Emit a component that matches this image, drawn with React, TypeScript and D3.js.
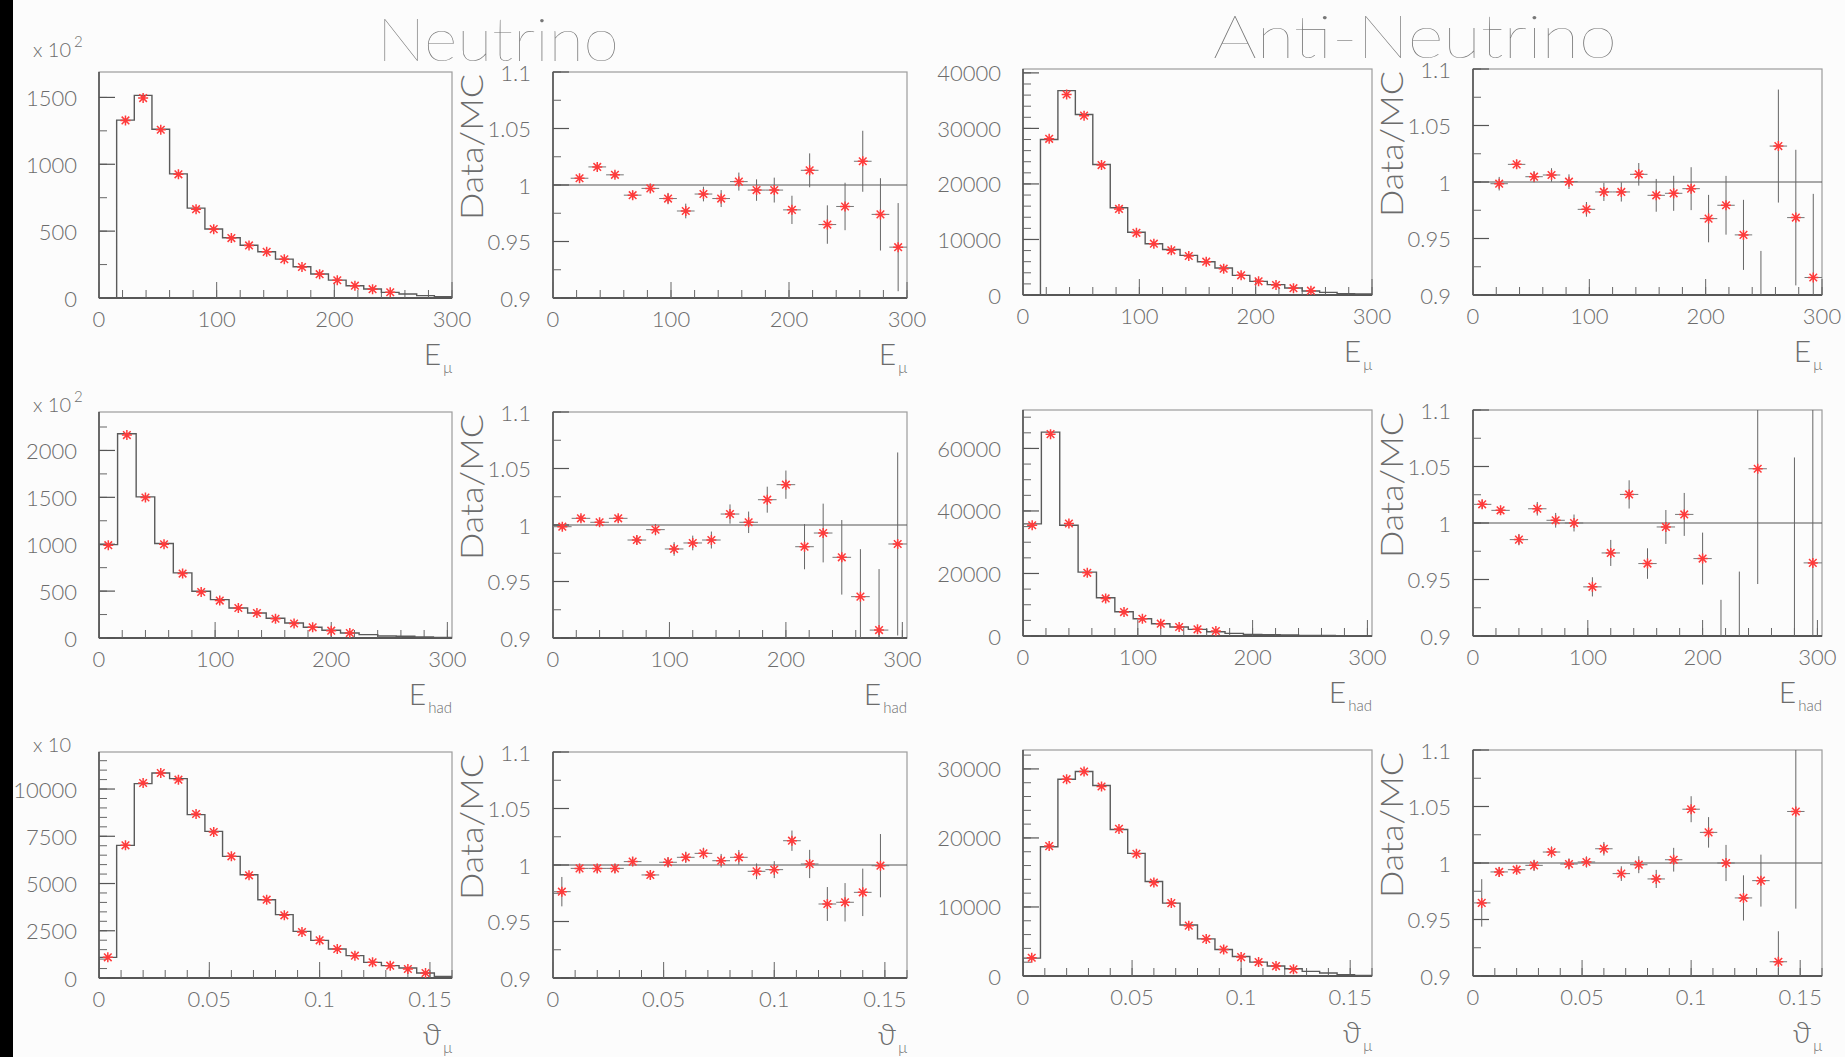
import React, { useEffect, useRef } from 'react';
import * as d3 from 'd3';

// ---- tick labels ----
const energyTicks = [0, 100, 200, 300];
const thetaTicks = [0, 0.05, 0.1, 0.15];
const ratioTicks = [0.9, 0.95, 1, 1.05, 1.1];

// ---- Neutrino, E_mu (20 bins of 15), counts x 10^2 ----
const nuEmuMC = [0, 1330, 1515, 1262, 928, 672, 516, 450, 395, 346, 291, 234, 179, 134, 92, 67, 42, 30, 18, 10];
const nuEmuData = [null, 1328, 1495, 1258, 925, 664, 515, 448, 393, 345, 290, 232, 178, 133, 92, 66, 43, null, null, null];
const nuEmuRatio = [null, 1.006, 1.016, 1.009, 0.991, 0.997, 0.988, 0.977, 0.992, 0.988, 1.003, 0.9955, 0.9955, 0.978, 1.013, 0.965, 0.981, 1.021, 0.974, 0.945];
const nuEmuErr = [null, 0.003, 0.003, 0.003, 0.004, 0.004, 0.005, 0.0065, 0.0065, 0.0075, 0.008, 0.0095, 0.011, 0.0125, 0.015, 0.017, 0.021, 0.027, 0.032, 0.039];

// ---- Anti-Neutrino, E_mu ----
const anuEmuMC = [0, 28000, 36800, 32500, 23500, 15700, 11300, 9240, 8200, 7140, 6000, 4860, 3540, 2460, 1860, 1260, 720, 480, 240, 180];
const anuEmuData = [null, 28130, 36100, 32300, 23400, 15500, 11200, 9240, 8040, 7020, 6000, 4740, 3540, 2460, 1800, 1230, 780, null, null, null];
const anuEmuRatio = [null, 0.9985, 1.0156, 1.0047, 1.0062, 1.0003, 0.9758, 0.9912, 0.9912, 1.0068, 0.9882, 0.99, 0.9941, 0.9676, 0.9794, 0.9532, 0.88, 1.0318, 0.9685, 0.9155];
const anuEmuErr = [null, 0.006, 0.004, 0.005, 0.006, 0.0065, 0.0065, 0.008, 0.0085, 0.01, 0.0145, 0.0155, 0.019, 0.021, 0.026, 0.031, 0.059, 0.05, 0.06, 0.074];

// ---- Neutrino, E_had (19 bins of 16), counts x 10^2 ----
const nuEhadMC = [996, 2178, 1505, 1007, 694, 498, 409, 320, 267, 210, 160, 114, 82, 53, 36, 21, 18, 11, 7];
const nuEhadData = [990, 2164, 1498, 1000, 687, 491, 399, 320, 267, 205, 155, 114, 78, 53, null, null, null, null, null];
const nuEhadRatio = [0.9985, 1.0059, 1.0024, 1.0059, 0.9867, 0.9959, 0.9788, 0.9841, 0.9867, 1.0097, 1.0024, 1.0224, 1.0357, 0.9808, 0.9929, 0.9714, 0.9366, 0.907, 0.9832];
const nuEhadErr = [0.003, 0.003, 0.003, 0.003, 0.004, 0.005, 0.006, 0.0065, 0.0075, 0.0085, 0.0095, 0.0115, 0.0125, 0.02, 0.026, 0.033, 0.042, 0.054, 0.081];

// ---- Anti-Neutrino, E_had ----
const anuEhadMC = [35860, 65220, 35430, 20430, 12240, 7770, 5530, 3940, 2870, 2130, 1380, 850, 530, 420, 320, 200, 150, 100, 80];
const anuEhadData = [35430, 64580, 36000, 20220, 12020, 7660, 5530, 3940, 2870, 2130, 1600, null, null, null, null, null, null, null, null];
const anuEhadRatio = [1.0165, 1.0112, 0.9853, 1.0126, 1.0024, 1.0, 0.9435, 0.9735, 1.0253, 0.9641, 0.9965, 1.0076, 0.9685, 0.85, 0.87, 1.048, null, 0.88, 0.9647];
const anuEhadErr = [0.004, 0.004, 0.005, 0.006, 0.0065, 0.0075, 0.0085, 0.0115, 0.0125, 0.0135, 0.015, 0.019, 0.023, 0.082, 0.087, 0.102, null, 0.178, 0.2];

// ---- Neutrino, theta_mu (20 bins of 0.008), counts x 10 ----
const nuThMC = [1094, 7020, 10284, 10850, 10550, 8644, 7762, 6439, 5468, 4145, 3352, 2470, 1993, 1535, 1182, 829, 653, 529, 265, 88];
const nuThData = [1094, 7020, 10319, 10850, 10496, 8679, 7726, 6439, 5433, 4145, 3316, 2434, 1993, 1535, 1182, 829, 653, 476, 265, null];
const nuThRatio = [0.9764, 0.997, 0.997, 0.997, 1.003, 0.9912, 1.0024, 1.0068, 1.0103, 1.0038, 1.0068, 0.9944, 0.9959, 1.0215, 1.0009, 0.9655, 0.967, 0.9758, 0.9994, null];
const nuThErr = [0.013, 0.004, 0.004, 0.004, 0.004, 0.004, 0.0045, 0.005, 0.005, 0.006, 0.0065, 0.007, 0.0075, 0.009, 0.0125, 0.015, 0.017, 0.021, 0.028, null];

// ---- Anti-Neutrino, theta_mu ----
const anuThMC = [2592, 18720, 28512, 29616, 27600, 21216, 17760, 13680, 10560, 7392, 5376, 3840, 2832, 2016, 1440, 1056, 672, 432, 192, 96];
const anuThData = [2640, 18816, 28512, 29616, 27456, 21312, 17712, 13536, 10560, 7296, 5376, 3840, 2736, 2016, 1440, 960, null, null, null, null];
const anuThRatio = [0.9647, 0.9921, 0.9941, 0.9979, 1.0097, 0.9991, 1.0009, 1.0126, 0.9906, 0.9985, 0.9859, 1.0029, 1.0476, 1.0271, 1.0, 0.9691, 0.9844, 0.9126, 1.0456, null];
const anuThErr = [0.021, 0.0045, 0.004, 0.005, 0.005, 0.005, 0.005, 0.006, 0.0065, 0.0075, 0.008, 0.0105, 0.0115, 0.0135, 0.016, 0.02, 0.023, 0.027, 0.086, null];

const W = 1845;
const H = 1057;
const FONT = "Lato, 'DejaVu Sans', sans-serif";
const TXT = '#6c6c6c';

const xAxes = {
  emu: { domain: [0, 300], bin: 15, n: 20, ticks: energyTicks, minor: 20, title: 'E', sub: 'μ' },
  ehad: { domain: [0, 304], bin: 16, n: 19, ticks: energyTicks, minor: 20, title: 'E', sub: 'had' },
  theta: { domain: [0, 0.16], bin: 0.008, n: 20, ticks: thetaTicks, minor: 0.01, title: 'ϑ', sub: 'μ' },
};

// frame layout
const colX = [99, 553, 1023, 1473];
const colW = [353, 354, 349, 349];
const rowTopL = [72, 412, 752];
const rowTopR = [69, 410, 750];
const frameH = 226;

const panels: any[] = [
  { col: 0, row: 0, kind: 'hist', axis: 'emu', yMax: 1690, yTicks: [0, 500, 1000, 1500], yMinor: 250, mc: nuEmuMC, data: nuEmuData, mult: { t: 'x 10', s: '2', dy: -15 } },
  { col: 1, row: 0, kind: 'ratio', axis: 'emu', ratio: nuEmuRatio, err: nuEmuErr },
  { col: 2, row: 0, kind: 'hist', axis: 'emu', yMax: 40700, yTicks: [0, 10000, 20000, 30000, 40000], yMinor: 2000, mc: anuEmuMC, data: anuEmuData },
  { col: 3, row: 0, kind: 'ratio', axis: 'emu', ratio: anuEmuRatio, err: anuEmuErr },
  { col: 0, row: 1, kind: 'hist', axis: 'ehad', yMax: 2410, yTicks: [0, 500, 1000, 1500, 2000], yMinor: 250, mc: nuEhadMC, data: nuEhadData, mult: { t: 'x 10', s: '2', dy: 0 } },
  { col: 1, row: 1, kind: 'ratio', axis: 'ehad', ratio: nuEhadRatio, err: nuEhadErr },
  { col: 2, row: 1, kind: 'hist', axis: 'ehad', yMax: 72300, yTicks: [0, 20000, 40000, 60000], yMinor: 5000, mc: anuEhadMC, data: anuEhadData },
  { col: 3, row: 1, kind: 'ratio', axis: 'ehad', ratio: anuEhadRatio, err: anuEhadErr },
  { col: 0, row: 2, kind: 'hist', axis: 'theta', yMax: 11960, yTicks: [0, 2500, 5000, 7500, 10000], yMinor: 500, mc: nuThMC, data: nuThData, mult: { t: 'x 10', s: '', dy: 0 } },
  { col: 1, row: 2, kind: 'ratio', axis: 'theta', ratio: nuThRatio, err: nuThErr },
  { col: 2, row: 2, kind: 'hist', axis: 'theta', yMax: 32740, yTicks: [0, 10000, 20000, 30000], yMinor: 2000, mc: anuThMC, data: anuThData },
  { col: 3, row: 2, kind: 'ratio', axis: 'theta', ratio: anuThRatio, err: anuThErr },
];

const starPath = 'M-5,0H5M0,-5V5M-3.8,-3.8L3.8,3.8M-3.8,3.8L3.8,-3.8';

const App = () => {
  const svgRef = useRef<SVGSVGElement>(null);

  useEffect(() => {
    const svg = d3.select(svgRef.current);
    svg.selectAll('*').remove();

    svg.append('rect').attr('width', W).attr('height', H).attr('fill', '#fcfcfc');
    svg.append('rect').attr('width', 13).attr('height', H).attr('fill', '#000');

    // titles
    svg.append('text')
      .attr('x', 377).attr('y', 61)
      .attr('textLength', 242).attr('lengthAdjust', 'spacingAndGlyphs')
      .style('font-family', FONT).style('font-weight', 200).style('font-size', '60px')
      .attr('fill', '#777')
      .text('Neutrino');
    svg.append('text')
      .attr('x', 1213).attr('y', 58)
      .attr('textLength', 404).attr('lengthAdjust', 'spacingAndGlyphs')
      .style('font-family', FONT).style('font-weight', 200).style('font-size', '59px')
      .attr('fill', '#777')
      .text('Anti-Neutrino');

    panels.forEach((p, idx) => {
      const ax = (xAxes as any)[p.axis];
      const left = colX[p.col];
      const right = left + colW[p.col];
      const top = (p.col < 2 ? rowTopL : rowTopR)[p.row];
      const bottom = top + frameH;

      const x = d3.scaleLinear().domain(ax.domain).range([left, right]);
      const y = d3.scaleLinear()
        .domain(p.kind === 'hist' ? [0, p.yMax] : [0.9, 1.1])
        .range([bottom, top]);

      const g = svg.append('g');
      const clipId = `clip-${idx}`;
      g.append('clipPath').attr('id', clipId)
        .append('rect').attr('x', left).attr('y', top).attr('width', right - left).attr('height', frameH);

      const edges = d3.range(ax.n + 1).map(i => i * ax.bin);
      const centers = d3.range(ax.n).map(i => (i + 0.5) * ax.bin);

      // frame
      g.append('rect')
        .attr('x', left).attr('y', top).attr('width', right - left).attr('height', frameH)
        .attr('fill', 'none').attr('stroke', '#9c9c9c').attr('stroke-width', 1.2);
      g.append('line').attr('x1', left).attr('x2', right).attr('y1', bottom).attr('y2', bottom)
        .attr('stroke', '#333').attr('stroke-width', 1.6);
      g.append('line').attr('x1', left).attr('x2', left).attr('y1', top).attr('y2', bottom)
        .attr('stroke', '#444').attr('stroke-width', 1.4);

      // x ticks
      const xMinor = d3.range(ax.domain[0], ax.domain[1] + ax.minor / 2, ax.minor);
      g.selectAll('.xminor').data(xMinor).enter().append('line')
        .attr('x1', d => x(d)).attr('x2', d => x(d))
        .attr('y1', bottom).attr('y2', bottom - 8)
        .attr('stroke', '#666').attr('stroke-width', 1);
      g.selectAll('.xmajor').data(ax.ticks).enter().append('line')
        .attr('x1', (d: number) => x(d)).attr('x2', (d: number) => x(d))
        .attr('y1', bottom).attr('y2', bottom - 16)
        .attr('stroke', '#666').attr('stroke-width', 1);
      g.selectAll('.xlab').data(ax.ticks).enter().append('text')
        .attr('x', (d: number) => x(d)).attr('y', bottom + 29)
        .attr('text-anchor', 'middle')
        .style('font-family', FONT).style('font-weight', 300).style('font-size', '22px')
        .attr('fill', TXT)
        .text((d: number) => String(d));

      // x title
      const xt = g.append('text')
        .attr('x', right).attr('y', bottom + 67)
        .attr('text-anchor', 'end')
        .style('font-family', FONT).style('font-weight', 300)
        .attr('fill', TXT);
      xt.append('tspan').style('font-size', '30px').text(ax.title);
      xt.append('tspan').style('font-size', '15px').attr('dy', 8).attr('dx', 2).text(ax.sub);

      // y ticks
      const yTicks = p.kind === 'hist' ? p.yTicks : ratioTicks;
      const yMinorStep = p.kind === 'hist' ? p.yMinor : 0.025;
      const y0 = p.kind === 'hist' ? 0 : 0.9;
      const y1 = p.kind === 'hist' ? p.yMax : 1.1 + 1e-9;
      const yMinor = d3.range(y0, y1, yMinorStep);
      g.selectAll('.yminor').data(yMinor).enter().append('line')
        .attr('x1', left).attr('x2', left + 8)
        .attr('y1', d => y(d)).attr('y2', d => y(d))
        .attr('stroke', '#666').attr('stroke-width', 1);
      g.selectAll('.ymajor').data(yTicks).enter().append('line')
        .attr('x1', left).attr('x2', left + 16)
        .attr('y1', (d: number) => y(d)).attr('y2', (d: number) => y(d))
        .attr('stroke', '#555').attr('stroke-width', 1.2);
      g.selectAll('.ylab').data(yTicks).enter().append('text')
        .attr('x', left - 22).attr('y', (d: number) => y(d))
        .attr('text-anchor', 'end').attr('dominant-baseline', 'central')
        .style('font-family', FONT).style('font-weight', 300).style('font-size', '22px')
        .attr('fill', TXT)
        .text((d: number) => String(d));

      if (p.mult) {
        const mt = g.append('text')
          .attr('x', 33).attr('y', top + p.mult.dy)
          .style('font-family', FONT).style('font-weight', 300)
          .attr('fill', TXT);
        mt.append('tspan').style('font-size', '20px').text(p.mult.t);
        if (p.mult.s) mt.append('tspan').style('font-size', '15px').attr('dy', -10).attr('dx', 3).text(p.mult.s);
      }

      const plot = g.append('g').attr('clip-path', `url(#${clipId})`);

      if (p.kind === 'hist') {
        const pts: [number, number][] = [[edges[0], 0]];
        p.mc.forEach((v: number, i: number) => {
          pts.push([edges[i], v]);
          pts.push([edges[i + 1], v]);
        });
        pts.push([edges[ax.n], 0]);
        const line = d3.line<[number, number]>().x(d => x(d[0])).y(d => y(d[1]));
        plot.append('path').attr('d', line(pts))
          .attr('fill', 'none').attr('stroke', '#5a5a5a').attr('stroke-width', 1.4);

        const dat = p.data.map((v: number | null, i: number) => ({ c: centers[i], v })).filter((d: any) => d.v != null);
        plot.selectAll('.star').data(dat).enter().append('path')
          .attr('transform', (d: any) => `translate(${x(d.c)},${y(d.v)})`)
          .attr('d', starPath)
          .attr('stroke', '#ff3b3b').attr('stroke-width', 1.5).attr('fill', 'none');
      } else {
        plot.append('line')
          .attr('x1', left).attr('x2', right).attr('y1', y(1)).attr('y2', y(1))
          .attr('stroke', '#555').attr('stroke-width', 1.2);

        const dat = p.ratio.map((v: number | null, i: number) => ({ c: centers[i], v, e: p.err[i] })).filter((d: any) => d.v != null);
        plot.selectAll('.herr').data(dat).enter().append('line')
          .attr('x1', (d: any) => x(d.c - ax.bin / 2)).attr('x2', (d: any) => x(d.c + ax.bin / 2))
          .attr('y1', (d: any) => y(d.v)).attr('y2', (d: any) => y(d.v))
          .attr('stroke', '#777').attr('stroke-width', 1);
        plot.selectAll('.verr').data(dat).enter().append('line')
          .attr('x1', (d: any) => x(d.c)).attr('x2', (d: any) => x(d.c))
          .attr('y1', (d: any) => y(d.v - d.e)).attr('y2', (d: any) => y(d.v + d.e))
          .attr('stroke', '#666').attr('stroke-width', 1);
        plot.selectAll('.star').data(dat).enter().append('path')
          .attr('transform', (d: any) => `translate(${x(d.c)},${y(d.v)})`)
          .attr('d', starPath)
          .attr('stroke', '#ff3b3b').attr('stroke-width', 1.5).attr('fill', 'none');

        // y title
        g.append('text')
          .attr('transform', `translate(${left - 70},${top + 2}) rotate(-90)`)
          .attr('text-anchor', 'end')
          .attr('textLength', 146).attr('lengthAdjust', 'spacingAndGlyphs')
          .style('font-family', FONT).style('font-weight', 300).style('font-size', '31px')
          .attr('fill', TXT)
          .text('Data/MC');
      }
    });
  }, []);

  return (
    <svg ref={svgRef} width={W} height={H}
      style={{ position: 'fixed', left: 0, top: 0, display: 'block' }} />
  );
};

export default App;
